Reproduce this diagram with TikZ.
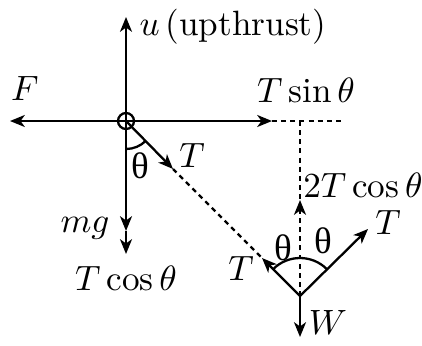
\documentclass[tikz,border=0pt]{standalone}
\usepackage{fontspec}
\newfontfamily\grk{Liberation Serif}
\usetikzlibrary{arrows.meta}
\tikzset{
  vec/.style={-{Stealth[length=4.2pt,width=3.4pt,inset=1.2pt]},line width=0.65pt},
  guide/.style={dash pattern=on 1.4pt off 1.2pt,line width=0.65pt},
  ang/.style={font=\fontsize{10.5}{12}\selectfont\grk,inner sep=0pt},
}
\begin{document}
\begin{tikzpicture}[x=0.01cm,y=-0.01cm,every node/.style={font=\fontsize{10}{12}\selectfont,inner sep=0pt}]
\useasboundingbox (0,0) rectangle (422,345);
% points of the two force systems
\coordinate (O) at (126,121);
\coordinate (P) at (300,296);
\coordinate (uTip) at (126,17);
\coordinate (FTip) at (10,121);
\coordinate (sTip) at (272,121);
\coordinate (sEnd) at (343,121);
\coordinate (K) at (300,121);
\coordinate (mgTip) at (126,231);
\coordinate (TcTip) at (126,254);
\coordinate (Ta) at (173,169);
\coordinate (Tl) at (262,258);
\coordinate (Tr) at (368,229);
\coordinate (cTip) at (300,200);
\coordinate (WTip) at (300,337);
% forces at the centre
\draw[line width=0.65pt] (O) circle[radius=8];
\draw[vec] (O) -- (uTip);
\draw[vec] (O) -- (FTip);
\draw[vec] (O) -- (sTip);
\draw[vec] (O) -- (mgTip);
\draw[vec] (mgTip) -- (TcTip);
\draw[vec] (O) -- (Ta);
\draw[line width=0.65pt] (O) ++(90:28) arc[start angle=90,end angle=45,radius=28];
\draw[guide] (sTip) -- (sEnd);
\draw[guide] (K) -- (cTip);
\draw[guide] (Ta) -- (Tl);
% forces at the knot
\draw[guide,-{Stealth[length=4.2pt,width=3.4pt,inset=1.2pt]}] (P) -- (cTip);
\draw[vec] (P) -- (Tl);
\draw[vec] (P) -- (Tr);
\draw[vec] (P) -- (WTip);
\draw[line width=0.65pt] (P) ++(225:38) arc[start angle=225,end angle=315,radius=38];
% labels
\node[anchor=base west] (uLbl) at (139,35) {$u$\,(upthrust)};
\node[anchor=base] (FLbl) at (25,100) {$F$};
\node[anchor=base] (sLbl) at (306,102) {$T\sin\theta$};
\node[anchor=base] (mgLbl) at (85,232) {$mg$};
\node[anchor=base] (TcLbl) at (126,290) {$T\cos\theta$};
\node[anchor=base] (TaLbl) at (192,167) {$T$};
\node[ang] (thO) at (140,166) {θ};
\node[anchor=base] (cLbl) at (363,197) {$2T\cos\theta$};
\node[anchor=base] (TrLbl) at (388,234) {$T$};
\node[anchor=base] (TlLbl) at (241,280) {$T$};
\node[ang] (thL) at (283,248) {θ};
\node[ang] (thR) at (323,241) {θ};
\node[anchor=base] (WLbl) at (328,334) {$W$};
\end{tikzpicture}
\end{document}
